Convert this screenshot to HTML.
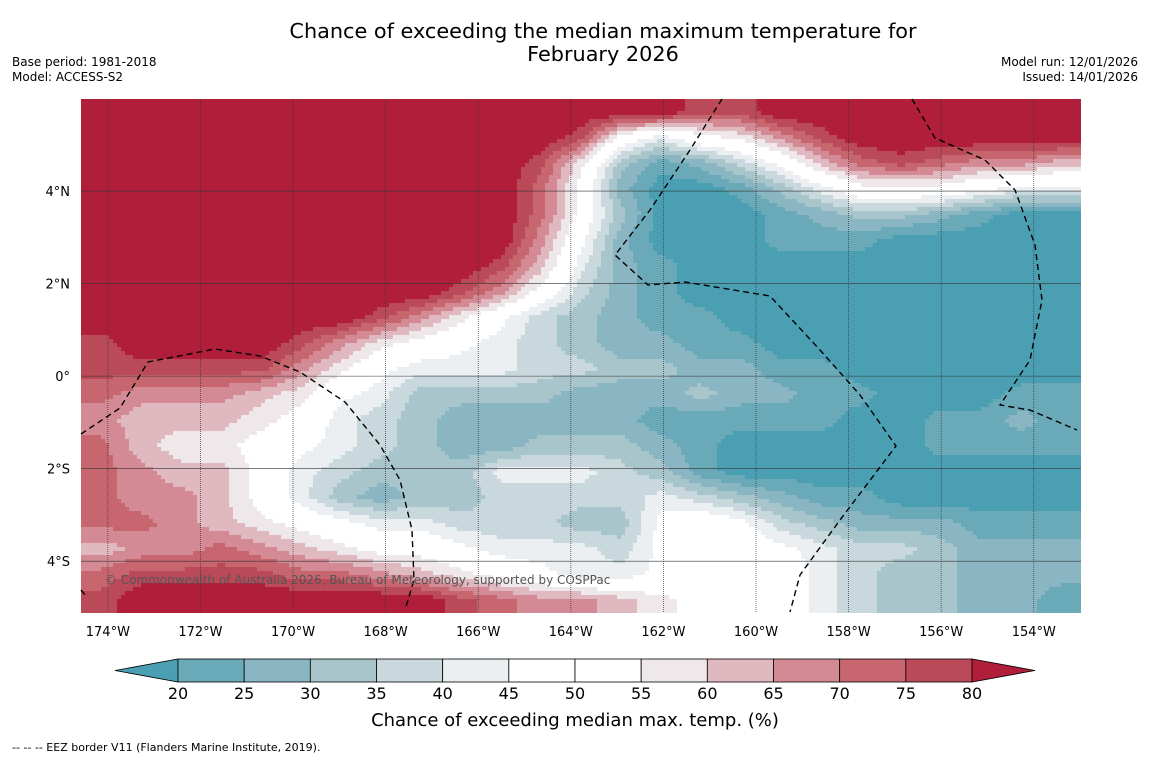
<!DOCTYPE html>
<html><head><meta charset="utf-8"><style>
body{margin:0;background:#fff;width:1150px;height:758px;overflow:hidden;font-family:"DejaVu Sans","Liberation Sans",sans-serif}
svg{position:absolute;left:0;top:0;font-family:"DejaVu Sans","Liberation Sans",sans-serif}
</style></head><body>
<svg id="chart" width="1150" height="758">
<defs>
<clipPath id="mapclip"><rect x="81" y="99" width="1000" height="514"/></clipPath>
</defs>
<text x="603" y="38" font-size="20.8" text-anchor="middle">Chance of exceeding the median maximum temperature for</text>
<text x="603" y="61" font-size="20.8" text-anchor="middle">February 2026</text>
<text x="12" y="66" font-size="12">Base period: 1981-2018</text>
<text x="12" y="81" font-size="12">Model: ACCESS-S2</text>
<text x="1138" y="66" font-size="12" text-anchor="end">Model run: 12/01/2026</text>
<text x="1138" y="81" font-size="12" text-anchor="end">Issued: 14/01/2026</text>
<g clip-path="url(#mapclip)"><g id="cells" shape-rendering="crispEdges"></g></g>
<g id="grid"></g>
<g fill="none" stroke="#000" stroke-width="1.4" stroke-dasharray="6,4">
<path d="M81,434 L120,408 L148,362 L215,349 L260,356 L300,372 L345,402 L380,445 L400,480 L412,530 L414,580 L405,610"/>
<path d="M722,99 L690,150 L650,210 L615,255 L648,285 L685,282 L770,296 L820,350 L860,395 L896,446 L840,520 L800,575 L790,612"/>
<path d="M912,99 L935,138 L985,160 L1015,190 L1035,245 L1042,300 L1030,360 L1000,405 L1030,410 L1077,430"/>
<path d="M81,590 L86,596"/>
</g>
<text x="105" y="584" font-size="12" fill="#555">© Commonwealth of Australia 2026, Bureau of Meteorology, supported by COSPPac</text>
<g id="xticks"></g>
<g id="yticks"></g>
<g id="cbar"></g>
<text x="575" y="726" font-size="18" text-anchor="middle">Chance of exceeding median max. temp. (%)</text>
<text x="12" y="751" font-size="11">--  --  -- EEZ border V11 (Flanders Marine Institute, 2019).</text>
</svg>
<script>
const levels=[20,25,30,35,40,45,50,55,60,65,70,75,80];
const levelColors=["#4aa0b2","#6aaab8","#8ab5c3","#a8c5cc","#c9d8dd","#ebeff1","#ffffff","#ffffff","#eee8ea","#e0b8bf","#d48a95","#c8666f","#bb4a58","#b01e3a"];
const lonTicks=[-174,-172,-170,-168,-166,-164,-162,-160,-158,-156,-154];
const latTicks=[4,2,0,-2,-4];
const lonRange=[-174.58,-152.98];
const latRange=[5.99,-5.12];
const gridVals=[
[85,85,85,85,85,85,85,85,85,85,85,85,85,85,85,77,77,85,85,85,85,85,85,85,85],
[85,85,85,85,85,85,85,85,85,85,85,85,77,52,42,52,57,67,77,85,85,85,85,85,85],
[85,85,85,85,85,85,85,85,85,85,85,77,57,32,22,27,37,47,62,72,77,72,67,67,62],
[85,85,85,85,85,85,85,85,85,85,85,72,52,27,17,17,22,32,42,52,52,52,47,42,42],
[85,85,85,85,85,85,85,85,85,85,85,72,52,32,17,17,17,22,27,32,32,27,22,17,17],
[85,85,85,85,85,85,85,85,85,85,85,67,47,27,17,17,17,22,22,22,17,17,17,17,17],
[85,85,85,85,85,85,85,85,85,85,77,62,42,27,22,17,17,17,17,17,17,17,17,17,17],
[85,85,85,85,85,85,85,85,85,77,67,52,37,27,22,17,17,17,17,17,17,17,17,17,17],
[85,85,85,85,85,85,85,77,67,57,47,37,32,27,22,22,17,17,17,17,17,17,17,17,17],
[77,85,85,85,85,77,67,57,52,47,42,37,32,27,27,22,22,17,17,17,17,17,17,17,17],
[77,77,77,77,77,67,57,47,42,42,42,37,37,32,32,27,27,22,22,17,17,17,17,17,17],
[72,67,67,67,62,57,47,42,32,32,32,32,27,27,27,32,27,27,22,22,17,17,17,22,22],
[67,62,62,62,57,52,42,37,32,27,27,27,27,27,22,22,22,22,22,17,17,22,22,27,22],
[72,62,57,57,52,47,42,37,32,27,27,32,32,32,27,22,17,17,17,17,17,22,22,22,22],
[72,67,62,62,52,42,37,32,32,32,42,42,42,37,32,22,17,17,17,17,17,17,17,17,17],
[72,67,67,62,52,42,32,27,32,32,37,37,37,37,42,37,32,27,22,22,17,17,17,17,17],
[72,72,67,62,57,52,47,42,42,37,37,37,32,32,47,52,47,37,32,27,27,27,22,22,22],
[62,67,67,72,67,62,57,52,52,47,42,42,42,37,47,52,52,47,42,37,37,32,27,27,27],
[72,77,77,77,77,72,72,67,62,57,52,47,42,42,47,52,52,52,42,37,32,32,27,27,27],
[77,85,85,85,85,85,85,85,85,77,72,67,67,62,57,52,47,52,42,37,32,32,27,27,22]
];
const cbarLabels=[20,25,30,35,40,45,50,55,60,65,70,75,80];
const NS="http://www.w3.org/2000/svg";
const MX0=81,MX1=1081,MY0=99,MY1=613;
function xLon(l){return MX0+(l-lonRange[0])/(lonRange[1]-lonRange[0])*(MX1-MX0);}
function yLat(l){return MY0+(l-latRange[0])/(latRange[1]-latRange[0])*(MY1-MY0);}
function levelIndex(v){let i=0;while(i<levels.length&&v>=levels[i])i++;return i;}
function mk(t,a,p){const e=document.createElementNS(NS,t);for(const k in a)e.setAttribute(k,a[k]);p.appendChild(e);return e;}
const nR=gridVals.length,nC=gridVals[0].length;
const cw=(MX1-MX0)/nC,ch=(MY1-MY0)/nR;
function sample(px,py){
 let gx=(px-MX0)/cw-0.5, gy=(py-MY0)/ch-0.5;
 gx=Math.max(0,Math.min(nC-1.0001,gx)); gy=Math.max(0,Math.min(nR-1.0001,gy));
 const c0=Math.floor(gx),r0=Math.floor(gy),fx=gx-c0,fy=gy-r0;
 const a=gridVals[r0][c0],b=gridVals[r0][c0+1],c=gridVals[r0+1][c0],d=gridVals[r0+1][c0+1];
 return a*(1-fx)*(1-fy)+b*fx*(1-fy)+c*(1-fx)*fy+d*fx*fy;
}
const cells=document.getElementById('cells');
const step=4;
for(let y=MY0;y<MY1;y+=step){
 let runStart=MX0,runIdx=levelIndex(sample(MX0+step/2,y+step/2));
 for(let x=MX0+step;x<=MX1;x+=step){
  const idx=x<MX1?levelIndex(sample(x+step/2,y+step/2)):-1;
  if(idx!==runIdx){
   const e=mk('rect',{x:runStart,y:y,width:x-runStart,height:step,fill:levelColors[runIdx]},cells);
   
   
   runStart=x;runIdx=idx;
  }
 }
}
const grid=document.getElementById('grid');
lonTicks.forEach(l=>{const x=xLon(l);
 const e=mk('line',{x1:x,x2:x,y1:MY0,y2:MY1,stroke:'#333','stroke-width':0.7,'stroke-dasharray':'1,1'},grid);
 
 const t=mk('text',{x:x,y:636,'font-size':13,'text-anchor':'middle'},document.getElementById('xticks'));
 t.textContent=Math.abs(l)+'°W';
 });
latTicks.forEach(l=>{const y=yLat(l);
 const e=mk('line',{x1:MX0,x2:MX1,y1:y,y2:y,stroke:'#333','stroke-width':0.6},grid);
 
 const t=mk('text',{x:70,y:y+5,'font-size':13,'text-anchor':'end'},document.getElementById('yticks'));
 t.textContent=l===0?'0°':Math.abs(l)+'°'+(l>0?'N':'S');
 });
const cb=document.getElementById('cbar');
const CB0=178,CB1=972,CBY=659,CBH=23,segW=(CB1-CB0)/(cbarLabels.length-1);
function xCb(v){return CB0+(v-cbarLabels[0])/(cbarLabels[cbarLabels.length-1]-cbarLabels[0])*(CB1-CB0);}
let p=mk('polygon',{points:`${CB0},${CBY} ${CB0},${CBY+CBH} 115,${CBY+CBH/2}`,fill:levelColors[0],stroke:'#000','stroke-width':0.8},cb);

for(let i=0;i<cbarLabels.length-1;i++){
 const r=mk('rect',{x:xCb(cbarLabels[i]),y:CBY,width:segW,height:CBH,fill:levelColors[i+1],stroke:'#000','stroke-width':0.8},cb);
 }
p=mk('polygon',{points:`${CB1},${CBY} ${CB1},${CBY+CBH} 1035,${CBY+CBH/2}`,fill:levelColors[13],stroke:'#000','stroke-width':0.8},cb);

cbarLabels.forEach(v=>{const t=mk('text',{x:xCb(v),y:699,'font-size':16,'text-anchor':'middle'},cb);t.textContent=v;
 });
</script>
</body></html>
